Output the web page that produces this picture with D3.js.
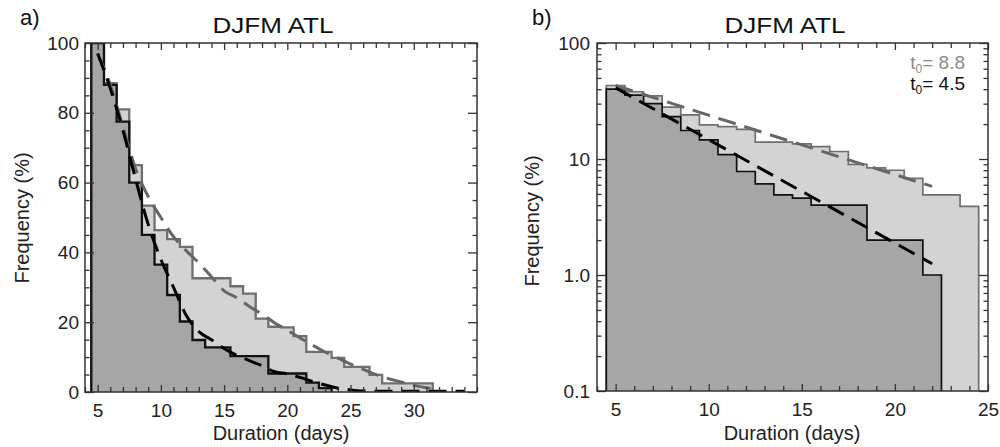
<!DOCTYPE html>
<html lang="en">
<head>
<meta charset="utf-8">
<title>DJFM ATL durations</title>
<script src="https://cdn.jsdelivr.net/npm/d3@7"></script>
<style>
body { margin: 0; background: #fff; }
svg { font-family: "Liberation Sans", Arial, sans-serif; }
.tick text { font-size: 19px; fill: #222; }
</style>
</head>
<body>
<script>

// ---- panel a) frequency (%) vs duration, linear axis
var daysLightA = [5,6,7,8,9,10,11,12,13,14,15,16,17,18,19,20,21,22,23,24,25,26,27,28,29,30,31];
var lightA     = [100,88.5,81,65,53.4,46.4,43.8,41.6,32.6,32.6,32.6,30.3,28.2,21,18.7,18.5,16,11.5,11.5,9.8,7.2,7.2,4.9,2.5,2.5,2.5,2.5];
var daysDarkA  = [5,6,7,8,9,10,11,12,13,14,15,16,17,18,19,20,21,22,23];
var darkA      = [100,88,77.5,60,45,36.5,27.8,20.2,14.9,12.8,12.8,10.3,10.3,10.3,5.3,5.3,5.3,2.7,1.1];

// fitted curves (dashed)
var fitLightDaysA = [5,6,7,8,9,10,11,12,13,14,15,16,17,18,19,20,21,22,23,24,25,26,27,28,29,30,31,32];
var fitLightA     = [97,88,76,64,56,50,44.5,40.5,37,33,29,27,24.5,22.3,19.8,17.7,15.5,13.4,11.4,9.7,8,6.5,5,3.8,2.9,1.9,1.2,0.8];
var fitDarkDaysA  = [5,6,7,8,9,10,11,12,13,14,15,16,17,18,19,20,21,22,23,24,25,26,28,30,32,34];
var fitDarkA      = [97,87,75,61,48,38,30,22,17.3,15,12.5,10.5,9,7.5,5.8,5.2,4.2,3,2,1.1,0.6,0.3,0.2,0.2,0.2,0.2];

// ---- panel b) same durations, log axis
var daysLightB = [5,6,7,8,9,10,11,12,13,14,15,16,17,18,19,20,21,22,23,24];
var lightB     = [43,38,35,28,24,19.7,19,18,14,14,13.5,12.8,11.6,9,8.4,8,6.8,4.9,4.9,3.9];
var daysDarkB  = [5,6,7,8,9,10,11,12,13,14,15,16,17,18,19,20,21,22];
var darkB      = [40,35.5,30,23.2,17.6,14.6,10.9,7.8,6.1,4.9,4.6,4,4,4,2,2,2,1];

var fitLightDaysB = [5,22];
var fitLightB     = [43,5.8];
var fitDarkDaysB  = [5,22];
var fitDarkB      = [41,1.25];

var legendLabels = ["8.8", "4.5"];

// tick labels
var xTicksA = [5,10,15,20,25,30];
var yTicksA = [0,20,40,60,80,100];
var xTicksB = [5,10,15,20,25];
var yTicksB = [0.1,1,10,100];
var yTickLabelsB = ["0.1","1.0","10","100"];

var lightFill = "#d3d3d3", lightLine = "#6f6f6f";
var darkFill = "#a6a6a6", darkLine = "#111";

var svg = d3.select("body").append("svg")
    .attr("width", 1000)
    .attr("height", 447);

function stepPoints(days, vals, floor) {
  var pts = [{x: days[0] - 0.5, y: floor}];
  days.forEach(function(d, i) { pts.push({x: d - 0.5, y: vals[i]}); });
  var last = days.length - 1;
  pts.push({x: days[last] + 0.5, y: vals[last]});
  pts.push({x: days[last] + 0.5, y: floor});
  return pts;
}

function drawPanel(p) {
  var g = svg.append("g");
  var x = d3.scaleLinear().domain(p.xDomain).range([p.left, p.right]);
  var y = p.log ? d3.scaleLog().domain([0.1, 100]).range([p.bottom, p.top])
                : d3.scaleLinear().domain([0, 100]).range([p.bottom, p.top]);
  var floor = p.log ? 0.1 : 0;

  g.append("clipPath").attr("id", p.id + "clip")
    .append("rect")
    .attr("x", p.left).attr("y", p.top)
    .attr("width", p.right - p.left).attr("height", p.bottom - p.top);

  var plot = g.append("g").attr("clip-path", "url(#" + p.id + "clip)");

  var line = d3.line().x(function(d) { return x(d.x); }).y(function(d) { return y(d.y); })
      .curve(d3.curveStepAfter);

  // light histogram then dark on top
  plot.append("path")
    .attr("d", line(stepPoints(p.lightDays, p.light, floor)))
    .attr("fill", lightFill).attr("stroke", lightLine)
    .attr("stroke-width", p.lw).attr("stroke-linejoin", "miter");
  plot.append("path")
    .attr("d", line(stepPoints(p.darkDays, p.dark, floor)))
    .attr("fill", darkFill).attr("stroke", darkLine)
    .attr("stroke-width", p.lw).attr("stroke-linejoin", "miter");

  var fit = d3.line().x(function(d) { return x(d[0]); }).y(function(d) { return y(d[1]); })
      .curve(d3.curveMonotoneX);

  plot.append("path")
    .attr("d", fit(d3.zip(p.fitLightDays, p.fitLight)))
    .attr("fill", "none").attr("stroke", "#666").attr("stroke-width", 3)
    .attr("stroke-dasharray", "18,9");
  plot.append("path")
    .attr("d", fit(d3.zip(p.fitDarkDays, p.fitDark)))
    .attr("fill", "none").attr("stroke", "#000").attr("stroke-width", 3)
    .attr("stroke-dasharray", "18,9");

  // axes, ticks pointing inward
  var xMinor = d3.range(Math.ceil(p.xDomain[0]), p.xDomain[1] + 0.01, 1)
      .filter(function(v) { return p.xTicks.indexOf(v) < 0; });

  function clean(sel) { sel.select(".domain").remove(); sel.selectAll("line").attr("stroke", "#333").attr("stroke-width", 1.3); }

  g.append("g").attr("transform", "translate(0," + p.bottom + ")")
    .call(d3.axisBottom(x).tickValues(p.xTicks).tickSize(-7).tickPadding(12).tickFormat(d3.format("d")))
    .call(clean);
  g.append("g").attr("transform", "translate(0," + p.bottom + ")")
    .call(d3.axisBottom(x).tickValues(xMinor).tickSize(-5).tickFormat(""))
    .call(clean);
  g.append("g").attr("transform", "translate(0," + p.top + ")")
    .call(d3.axisTop(x).tickValues(p.xTicks).tickSize(-7).tickFormat(""))
    .call(clean);
  g.append("g").attr("transform", "translate(0," + p.top + ")")
    .call(d3.axisTop(x).tickValues(xMinor).tickSize(-5).tickFormat(""))
    .call(clean);

  g.append("g").attr("transform", "translate(" + p.left + ",0)")
    .call(d3.axisLeft(y).tickValues(p.yTicks).tickSize(-9).tickPadding(p.yPad)
      .tickFormat(function(d, i) { return p.yLabels[i]; }))
    .call(clean);
  g.append("g").attr("transform", "translate(" + p.left + ",0)")
    .call(d3.axisLeft(y).tickValues(p.yMinor).tickSize(-4.5).tickFormat(""))
    .call(clean);
  g.append("g").attr("transform", "translate(" + p.right + ",0)")
    .call(d3.axisRight(y).tickValues(p.yTicks).tickSize(-9).tickFormat(""))
    .call(clean);
  g.append("g").attr("transform", "translate(" + p.right + ",0)")
    .call(d3.axisRight(y).tickValues(p.yMinor).tickSize(-4.5).tickFormat(""))
    .call(clean);

  g.append("rect")
    .attr("x", p.left).attr("y", p.top)
    .attr("width", p.right - p.left).attr("height", p.bottom - p.top)
    .attr("fill", "none").attr("stroke", "#333").attr("stroke-width", 1.5);

  // texts
  g.append("text").attr("x", p.tag[0]).attr("y", p.tag[1])
    .attr("font-size", 22).attr("fill", "#111").text(p.id + ")");
  g.append("text").attr("x", p.titleX).attr("y", 33)
    .attr("text-anchor", "middle").attr("font-size", 22).attr("fill", "#111")
    .attr("textLength", 121).attr("lengthAdjust", "spacingAndGlyphs")
    .text("DJFM ATL");
  g.append("text").attr("x", p.xLabelX).attr("y", 440)
    .attr("text-anchor", "middle").attr("font-size", 20).attr("fill", "#222")
    .text("Duration (days)");
  g.append("text")
    .attr("transform", "translate(" + p.yLabelX + "," + p.yLabelY + ") rotate(-90)")
    .attr("text-anchor", "middle").attr("font-size", 20).attr("fill", "#222")
    .text("Frequency (%)");
}

var minorA = d3.range(0, 101, 5).filter(function(v) { return yTicksA.indexOf(v) < 0; });
var minorB = [];
[0.1, 1, 10].forEach(function(dec) { for (var k = 2; k <= 9; k++) minorB.push(dec * k); });

drawPanel({
  id: "a", left: 85, right: 477, top: 43, bottom: 392, xDomain: [4, 35], log: false,
  lightDays: daysLightA, light: lightA, darkDays: daysDarkA, dark: darkA,
  fitLightDays: fitLightDaysA, fitLight: fitLightA, fitDarkDays: fitDarkDaysA, fitDark: fitDarkA,
  xTicks: xTicksA, yTicks: yTicksA, yLabels: yTicksA.map(String), yMinor: minorA, yPad: 6,
  lw: 2.3, tag: [20, 25], titleX: 273, xLabelX: 281, yLabelX: 29, yLabelY: 218
});

drawPanel({
  id: "b", left: 597, right: 988, top: 43, bottom: 391, xDomain: [4, 25], log: true,
  lightDays: daysLightB, light: lightB, darkDays: daysDarkB, dark: darkB,
  fitLightDays: fitLightDaysB, fitLight: fitLightB, fitDarkDays: fitDarkDaysB, fitDark: fitDarkB,
  xTicks: xTicksB, yTicks: yTicksB, yLabels: yTickLabelsB, yMinor: minorB, yPad: 7,
  lw: 1.7, tag: [532, 25], titleX: 785, xLabelX: 792, yLabelX: 539, yLabelY: 221
});

// legend (panel b)
var legendColors = ["#8a8a8a", "#111"];
legendLabels.forEach(function(lab, i) {
  var t = svg.append("text")
    .attr("x", 965).attr("y", 69 + i * 21)
    .attr("text-anchor", "end").attr("font-size", 19)
    .attr("fill", legendColors[i]);
  t.append("tspan").text("t");
  t.append("tspan").attr("dy", 4).attr("font-size", 12).text("0");
  t.append("tspan").attr("dy", -4).text("= " + lab);
});

</script>
</body>
</html>
